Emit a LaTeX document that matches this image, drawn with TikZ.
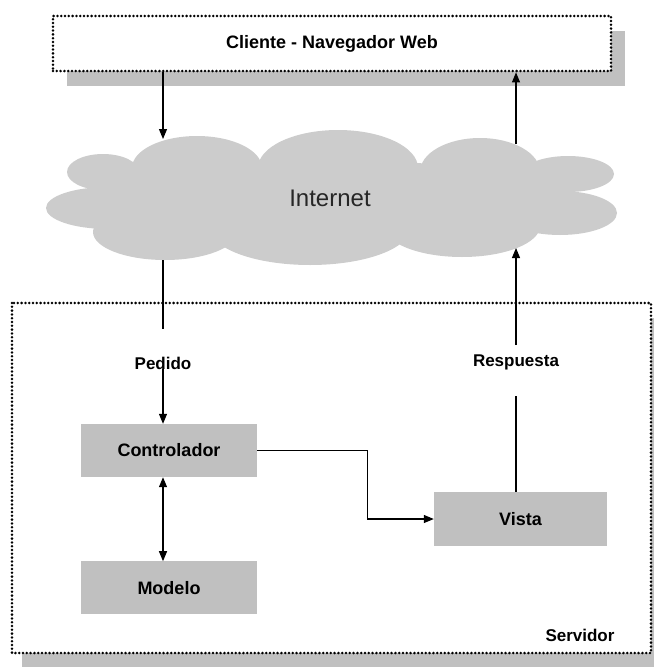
\documentclass[tikz,border=0pt]{standalone}
\usepackage{fontspec}
\setmainfont{Liberation Sans}
\usepackage{tikz}
\usetikzlibrary{arrows.meta,positioning}

\definecolor{cajagris}{HTML}{C0C0C0}
\definecolor{nubegris}{HTML}{CCCCCC}

\tikzset{
  caja/.style = {fill=cajagris, minimum width=176pt, minimum height=53pt, inner sep=0pt,
                 font=\fontsize{18}{20}\selectfont\bfseries},
  marco/.style = {draw, line width=2.8pt, dash pattern=on 0pt off 3.8pt, line cap=round},
  sombra/.style = {fill=cajagris},
  etiqueta/.style = {inner sep=0pt, font=\fontsize{17}{19}\selectfont\bfseries},
  flecha/.style = {-{Triangle[length=10pt,width=8pt]}, line width=1.1pt},
  dobleflecha/.style = {{Triangle[length=10pt,width=8pt]}-{Triangle[length=10pt,width=8pt]}, line width=1.1pt}
}

\begin{document}
\begin{tikzpicture}[ x=1pt , y=-1pt ]
\useasboundingbox (0,0) rectangle (654,667);

% servidor
\fill [ sombra ] (22,318) rectangle (654,668);
\fill [ white ] (12,303) rectangle (651,653);
\draw [ marco ] (12,303) rectangle (651,653);
\node [ etiqueta ] (servidor) at (580,635) {Servidor};

% cliente
\fill [ sombra ] (67,31) rectangle (625,86);
\node [ fill=white , marco , minimum width=558pt , minimum height=55pt , inner sep=0pt ]
  (cliente) at (332,43.5) {};
\node [ font=\fontsize{18}{20}\selectfont\bfseries ] at (cliente.center) {Cliente - Navegador Web};

% nube
\begin{scope}[ fill=nubegris ]
\fill (103,172) ellipse [x radius=36, y radius=18];
\fill (108,208) ellipse [x radius=62, y radius=21];
\fill (165,232) ellipse [x radius=72, y radius=28];
\fill (197,168) ellipse [x radius=65, y radius=32];
\fill (338,168) ellipse [x radius=80, y radius=38];
\fill (480,172) ellipse [x radius=60, y radius=34];
\fill (568,174) ellipse [x radius=46, y radius=18];
\fill (560,213) ellipse [x radius=57, y radius=22];
\fill (310,228) ellipse [x radius=100, y radius=37];
\fill (462,226) ellipse [x radius=78, y radius=31];
\fill (330,200) ellipse [x radius=230, y radius=40];
\end{scope}
\node [ font=\fontsize{24}{26}\selectfont , text=black!85 ] (internet) at (330,198) {Internet};

% puntos de la nube
\coordinate (inL) at (163,139);
\coordinate (outL) at (163,260);
\coordinate (inR) at (516,248);
\coordinate (outR) at (516,144);

% MVC
\node [ caja ] (controlador) at (169,450.5) {Controlador};
\node [ caja ] (modelo) [ below = 84pt of controlador ] {Modelo};
\node [ caja , minimum width=173pt , minimum height=54pt ] (vista) at (520.5,519) {Vista};

\node [ etiqueta ] (pedido) at (163,363) {Pedido};
\node [ etiqueta ] (respuesta) at (516,362) {Respuesta};
\coordinate (pedidoTop) at (163,329);
\coordinate (respuestaTop) at (516,345);
\coordinate (respuestaBot) at (516,396);

\draw [ flecha ] (cliente.south -| inL) -- (inL);
\draw [ line width=1.1pt ] (outL) -- (pedidoTop);
\draw [ flecha ] (pedido.south -| inL) -- (controlador.north -| inL);

\draw [ line width=1.1pt ] (vista.north -| respuestaBot) -- (respuestaBot);
\draw [ flecha ] (respuestaTop) -- (inR);
\draw [ flecha ] (outR) -- (cliente.south -| outR);

\draw [ flecha ] (controlador.east) -- ++(110,0) |- (vista.west);
\draw [ dobleflecha ] (controlador.south -| inL) -- (modelo.north -| inL);
\end{tikzpicture}
\end{document}
